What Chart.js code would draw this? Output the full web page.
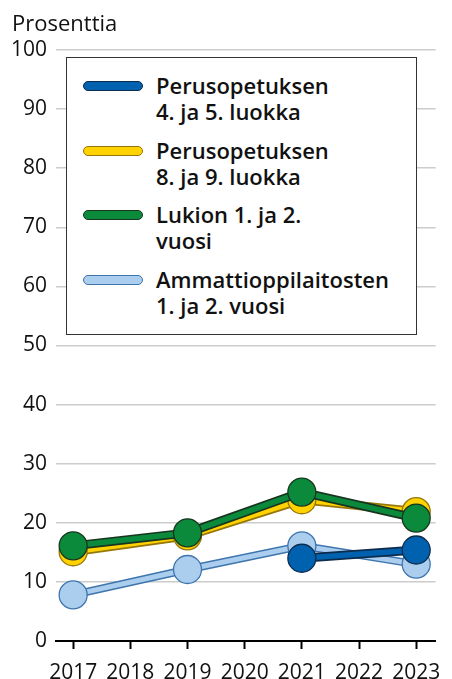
<!DOCTYPE html>
<html lang="fi">
<head>
<meta charset="utf-8">
<script src="https://cdn.jsdelivr.net/npm/chart.js@4.4.1/dist/chart.umd.min.js"></script>
<style>
    html, body { margin: 0; padding: 0; background: #fff; }
    #wrap { position: relative; width: 452px; height: 679px; font-family: "Open Sans", Roboto, sans-serif; color: #111; }
    #unit { position: absolute; left: 12px; top: 8px; font-size: 22px; line-height: 28px; }
    #legend {
        position: absolute; left: 66px; top: 57px; width: 349px; height: 276px;
        border: 1.5px solid #333; background: #fff; box-sizing: content-box;
    }
    .item { position: absolute; left: 16px; font-weight: 600; font-size: 22px; line-height: 26px; }
    .item .sw {
        position: absolute; left: 0; top: 9px; width: 58px; height: 8px;
        border-radius: 6px; border-width: 1.5px; border-style: solid;
    }
    .item .tx { margin-left: 73px; white-space: nowrap; }
</style>
</head>
<body>
<div id="wrap">
    <canvas id="chart" width="452" height="679"></canvas>
    <div id="unit">Prosenttia</div>
    <div id="legend"></div>
</div>
<script>
// vuodet ja arvot (prosenttia)
const years = [2017, 2018, 2019, 2020, 2021, 2022, 2023];
const seriesNames = [
    ['Perusopetuksen', '4. ja 5. luokka'],
    ['Perusopetuksen', '8. ja 9. luokka'],
    ['Lukion 1. ja 2.', 'vuosi'],
    ['Ammattioppilaitosten', '1. ja 2. vuosi']
];
const perus45 = [null, null, null, null, 14.0, null, 15.4];
const perus89 = [15.1, null, 17.8, null, 23.9, null, 21.9];
const lukio = [16.1, null, 18.3, null, 25.2, null, 20.8];
const ammatti = [7.8, null, 12.1, null, 16.1, null, 13.0];
const yTicks = [0, 10, 20, 30, 40, 50, 60, 70, 80, 90, 100];

// värit
const styles = [
    { fill: '#0062ae', edge: '#0d2c4c', outer: 9, inner: 5.5 },
    { fill: '#ffd200', edge: '#97770a', outer: 9, inner: 5.5 },
    { fill: '#0b8a3c', edge: '#18361f', outer: 9, inner: 5.5 },
    { fill: '#abcdee', edge: '#3e75ad', outer: 8, inner: 5 }
];
const allValues = [perus45, perus89, lukio, ammatti];
// piirtojärjestys: pienempi order = päällimmäisenä
const layer = [2, 1, 0, 3];

function toPoints(values) {
    return years.map((y, i) => ({ x: y, y: values[i] })).filter(p => p.y !== null);
}

const datasets = [];
allValues.forEach((values, k) => {
    const s = styles[k];
    // tumma reunaviiva
    datasets.push({
        data: toPoints(values),
        borderColor: s.edge,
        borderWidth: s.outer,
        pointRadius: 0,
        order: layer[k] * 2 + 1
    });
    // värillinen viiva ja pallot
    datasets.push({
        data: toPoints(values),
        borderColor: s.fill,
        borderWidth: s.inner,
        pointRadius: 14,
        pointBackgroundColor: s.fill,
        pointBorderColor: s.edge,
        pointBorderWidth: 1.3,
        order: layer[k] * 2
    });
});

const tickFont = { family: '"Open Sans"', size: 21 };

new Chart(document.getElementById('chart'), {
    type: 'line',
    data: { datasets },
    options: {
        responsive: false,
        animation: false,
        events: [],
        layout: { padding: { top: 50, right: 10, bottom: 0, left: 0 } },
        plugins: { legend: { display: false }, tooltip: { enabled: false } },
        scales: {
            x: {
                type: 'linear',
                min: 2016.7,
                max: 2023.34,
                afterBuildTicks: scale => { scale.ticks = years.map(v => ({ value: v })); },
                afterFit: scale => { scale.height = 38; },
                ticks: {
                    color: '#111',
                    padding: 11,
                    font: tickFont,
                    callback: v => String(v)
                },
                grid: { drawOnChartArea: false, drawTicks: true, tickLength: 8, tickColor: '#000', tickWidth: 2 },
                border: { color: '#000', width: 2 }
            },
            y: {
                min: 0,
                max: 100,
                afterBuildTicks: scale => { scale.ticks = yTicks.map(v => ({ value: v })); },
                afterFit: scale => { scale.width = 56; },
                ticks: {
                    color: '#111',
                    padding: 9,
                    font: tickFont
                },
                grid: { color: '#cccccc', lineWidth: 1.5, drawTicks: false },
                border: { display: false }
            }
        }
    }
});

// selite HTML:nä
const legend = document.getElementById('legend');
seriesNames.forEach((lines, k) => {
    const item = document.createElement('div');
    item.className = 'item';
    item.style.top = (14 + k * 64.7) + 'px';
    const sw = document.createElement('div');
    sw.className = 'sw';
    sw.style.background = styles[k].fill;
    sw.style.borderColor = styles[k].edge;
    const tx = document.createElement('div');
    tx.className = 'tx';
    tx.innerHTML = lines.join('<br>');
    item.appendChild(sw);
    item.appendChild(tx);
    legend.appendChild(item);
});
</script>
</body>
</html>
